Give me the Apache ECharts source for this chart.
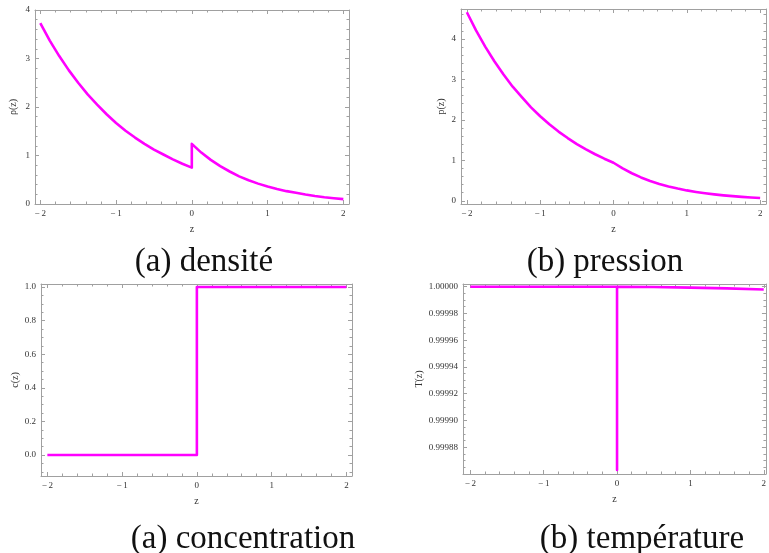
<!DOCTYPE html>
<html><head><meta charset="utf-8">
<script src="https://cdn.jsdelivr.net/npm/echarts@6/dist/echarts.min.js"></script>
<style>html,body{margin:0;padding:0;background:#fff}#c{width:769px;height:553px}</style>
</head><body><div id="c"></div>
<script>
// ---- data ----
const zLeft = [-2, -1.875, -1.75, -1.625, -1.5, -1.375, -1.25, -1.125, -1, -0.875, -0.75, -0.625, -0.5, -0.375, -0.25, -0.125, 0];
const zRight = [0, 0.125, 0.25, 0.375, 0.5, 0.625, 0.75, 0.875, 1, 1.125, 1.25, 1.375, 1.5, 1.625, 1.75, 1.875, 2];
const rhoLeft = [3.73, 3.37, 3.05, 2.76, 2.50, 2.26, 2.05, 1.85, 1.67, 1.51, 1.37, 1.24, 1.12, 1.02, 0.92, 0.83, 0.75];
const rhoRight = [1.24, 1.06, 0.91, 0.78, 0.67, 0.57, 0.49, 0.42, 0.36, 0.31, 0.265, 0.23, 0.195, 0.165, 0.14, 0.12, 0.10];
const pLeft = [4.66, 4.21, 3.81, 3.45, 3.12, 2.82, 2.56, 2.31, 2.09, 1.89, 1.71, 1.55, 1.40, 1.27, 1.15, 1.04, 0.94];
const pRight = [0.94, 0.80, 0.68, 0.577, 0.49, 0.417, 0.355, 0.301, 0.256, 0.218, 0.185, 0.157, 0.134, 0.114, 0.097, 0.082, 0.07];
const zConc = [-2, 0, 0, 2];
const cVals = [0, 0, 1, 1];
const zTemp = [-2, -1, 0, 0, 0, 0.5, 1, 1.5, 2];
const tVals = [1, 1, 1, 0.999863, 1, 0.9999998, 0.9999993, 0.9999987, 0.9999979];
const captions = ['(a) densité', '(b) pression', '(a) concentration', '(b) température'];
const yNames = ['ρ(z)', 'p(z)', 'c(z)', 'T(z)'];

const pairs = (xs, ys) => xs.map((x, i) => [x, ys[i]]);

const FRAME = '#a0a0a0';
const LABEL = '#333';
const FONT = 'Liberation Serif';
const MAG = '#ff00ff';

const fmtInt = v => {
  if (Math.abs(v - Math.round(v)) > 1e-6) return '';
  const r = Math.round(v);
  return r < 0 ? '\u2212\u2009' + Math.abs(r) : String(r);
};
const fmtStep = (step, lo, hi, dec) => v => {
  const k = v / step;
  if (Math.abs(k - Math.round(k)) > 1e-3) return '';
  if (v < lo - step * 1e-3 || v > hi + step * 1e-3) return '';
  return v.toFixed(dec);
};

const grids = [
  {left: 35, top: 10, width: 314, height: 194},
  {left: 461, top: 9, width: 315, height: 195},
  {left: 41, top: 284, width: 311, height: 192},
  {left: 463, top: 284, width: 305, height: 190}
];

const xAxes = [], yAxes = [];
function addAxes(list, dim, gi, min, max, majSplit, minSplit, fmt, name, nameGap) {
  const pos = dim === 'x' ? ['bottom', 'top'] : ['left', 'right'];
  const mainIdx = list.length;
  pos.forEach((p, k) => {
    list.push({
      type: 'value', gridIndex: gi, position: p, min: min, max: max,
      splitNumber: majSplit, scale: true,
      name: k === 0 ? name : '', nameLocation: 'middle', nameGap: nameGap,
      nameRotate: dim === 'y' ? 90 : 0,
      nameTextStyle: {fontFamily: FONT, fontSize: 10, color: LABEL},
      axisLine: {show: true, onZero: false, lineStyle: {color: FRAME, width: 1}},
      axisTick: {show: true, inside: true, length: 4, lineStyle: {color: FRAME}},
      axisLabel: {show: k === 0, formatter: fmt, fontFamily: FONT, fontSize: 9, color: LABEL, margin: 5,
                  showMinLabel: true, showMaxLabel: true, hideOverlap: false},
      splitLine: {show: false}
    });
    list.push({
      type: 'value', gridIndex: gi, position: p, min: min, max: max,
      splitNumber: minSplit, scale: true,
      axisLine: {show: false, onZero: false},
      axisTick: {show: true, inside: true, length: 2.5, lineStyle: {color: FRAME}},
      axisLabel: {show: false},
      splitLine: {show: false}
    });
  });
  return mainIdx;
}

const xm = [], ym = [];
xm.push(addAxes(xAxes, 'x', 0, -2.07, 2.075, 5, 20, fmtInt, 'z', 20));
ym.push(addAxes(yAxes, 'y', 0, 0, 4, 4, 20, fmtStep(1, 0, 4, 0), yNames[0], 17));
xm.push(addAxes(xAxes, 'x', 1, -2.08, 2.08, 5, 20, fmtInt, 'z', 20));
ym.push(addAxes(yAxes, 'y', 1, -0.08, 4.74, 5, 24, fmtStep(1, 0, 4, 0), yNames[1], 15));
xm.push(addAxes(xAxes, 'x', 2, -2.085, 2.075, 5, 20, fmtInt, 'z', 20));
ym.push(addAxes(yAxes, 'y', 2, -0.125, 1.018, 5, 23, fmtStep(0.2, 0, 1, 1), yNames[2], 17));
xm.push(addAxes(xAxes, 'x', 3, -2.1, 2.03, 5, 20, fmtInt, 'z', 20));
ym.push(addAxes(yAxes, 'y', 3, 0.99986, 1.000002, 7, 28, fmtStep(0.00002, 0.99988, 1.0, 5), yNames[3], 38));

function line(gi, data) {
  return {
    type: 'line', xAxisIndex: xm[gi], yAxisIndex: ym[gi], data: data,
    showSymbol: false, symbol: 'none', smooth: false,
    lineStyle: {color: MAG, width: 2.6, join: 'round'}, silent: true, animation: false
  };
}

const series = [
  line(0, pairs(zLeft, rhoLeft).concat(pairs(zRight, rhoRight))),
  line(1, pairs(zLeft, pLeft).concat(pairs(zRight.slice(1), pRight.slice(1)))),
  line(2, pairs(zConc, cVals)),
  line(3, pairs(zTemp, tVals))
];

const capPos = [[204, 262], [605, 262], [243, 539], [642, 539]];
const graphic = captions.map((t, i) => ({
  type: 'text', x: capPos[i][0], y: capPos[i][1],
  style: {text: t, fill: '#111', font: '33px "Liberation Serif"', textAlign: 'center', textVerticalAlign: 'middle'}
}));

const chart = echarts.init(document.getElementById('c'), null, {renderer: 'canvas'});
chart.setOption({
  animation: false,
  backgroundColor: '#fff',
  grid: grids,
  xAxis: xAxes,
  yAxis: yAxes,
  series: series,
  graphic: graphic
});
</script>
</body></html>
